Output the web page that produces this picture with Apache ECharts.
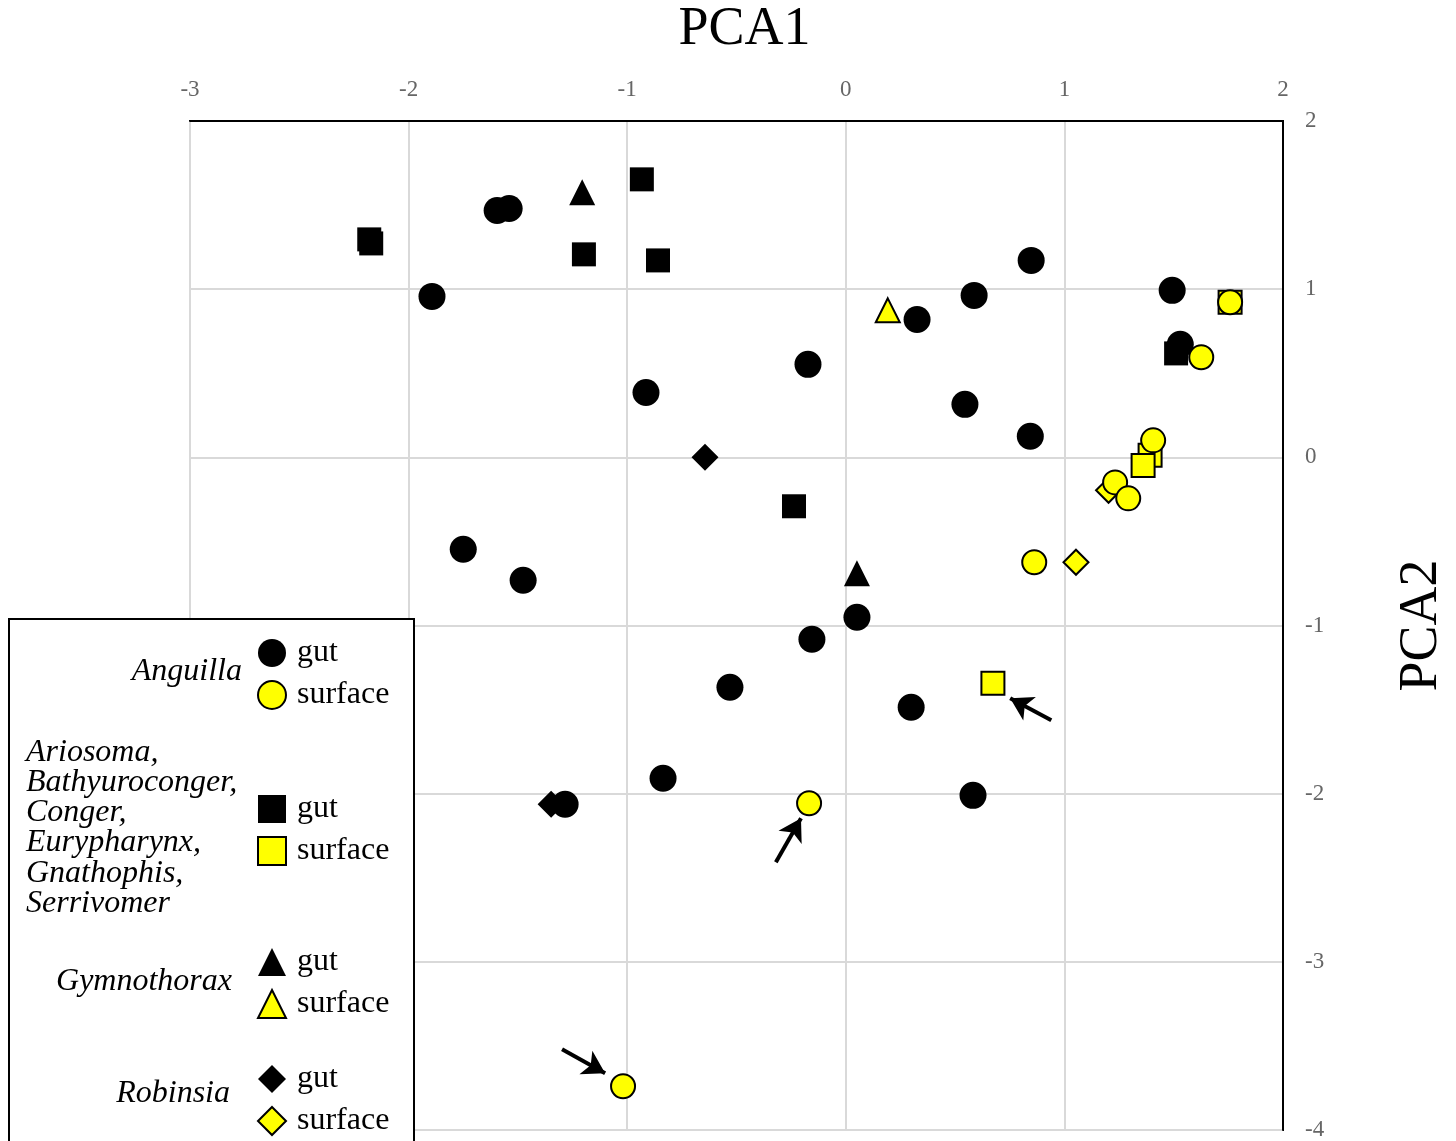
<!DOCTYPE html>
<html>
<head>
<meta charset="utf-8">
<script src="https://cdn.jsdelivr.net/npm/echarts@6/dist/echarts.min.js"></script>
<style>
html,body{margin:0;padding:0;background:#fff;}
#chart{width:1456px;height:1141px;}
</style>
</head>
<body>
<div id="chart"></div>
<script>
// PCA scores, [PCA1, PCA2]
var anguillaGut = [[-1.595,1.468],[-1.54,1.48],[-1.893,0.957],[-0.914,0.386],[-0.173,0.553],[0.326,0.82],
  [0.587,0.963],[0.848,1.171],[1.493,0.993],[1.53,0.672],[0.545,0.315],[0.844,0.125],[-1.75,-0.547],
  [-1.476,-0.731],[0.051,-0.951],[-0.155,-1.082],[-0.53,-1.367],[0.299,-1.486],[-0.836,-1.908],
  [-1.284,-2.063],[0.582,-2.01]];
var anguillaSurface = [[1.758,0.922],[1.626,0.595],[1.406,0.101],[1.232,-0.149],[1.292,-0.244],
  [0.862,-0.624],[-0.168,-2.057],[-1.019,-3.74]];
var congerGut = [[-2.18,1.296],[-2.171,1.272],[-0.933,1.653],[-1.198,1.207],[-0.859,1.171],[1.511,0.618],[-0.237,-0.291]];
var congerSurface = [[1.758,0.922],[1.392,0.012],[1.36,-0.048],[0.673,-1.344]];
var gymnoGut = [[-1.206,1.576],[0.051,-0.69]];
var gymnoSurface = [[0.192,0.874]];
var robinsiaGut = [[-0.644,0.0],[-1.348,-2.063]];
var robinsiaSurface = [[1.053,-0.624],[1.202,-0.196]];
// arrows [tail, head]
var arrows = [[[0.94,-1.564],[0.752,-1.433]],[[-0.32,-2.408],[-0.205,-2.146]],[[-1.298,-3.52],[-1.101,-3.662]]];

var serif = 'Liberation Serif';
var chart = echarts.init(document.getElementById('chart'));

function mk(name, data, symbol, size, fill, border, z){
  return {
    name: name, type: 'scatter', data: data, symbol: symbol, symbolSize: size,
    itemStyle: {color: fill, borderColor: border ? '#000' : fill, borderWidth: border ? 2 : 0, opacity: 1},
    emphasis: {disabled: true}, z: z
  };
}

var series = [
  mk('Anguilla gut', anguillaGut, 'circle', 27, '#000', false, 3),
  mk('Anguilla surface', anguillaSurface, 'circle', 24, '#ffff00', true, 5),
  mk('Conger gut', congerGut, 'rect', 24, '#000', false, 3),
  mk('Conger surface', congerSurface, 'rect', 23, '#ffff00', true, 4),
  mk('Gymnothorax gut', gymnoGut, 'triangle', 26, '#000', false, 3),
  mk('Gymnothorax surface', gymnoSurface, 'triangle', 24, '#ffff00', true, 4),
  mk('Robinsia gut', robinsiaGut, 'diamond', 27, '#000', false, 3),
  mk('Robinsia surface', robinsiaSurface, 'diamond', 25, '#ffff00', true, 4)
];
series[0].markLine = {
  silent: true, symbol: ['none', 'arrow'], symbolSize: [20, 22],
  lineStyle: {color: '#000', width: 4, type: 'solid'},
  label: {show: false},
  data: arrows.map(function(a){ return [{coord: a[0]}, {coord: a[1]}]; })
};

function legendBlock(names, top){
  return {
    data: names, orient: 'vertical', left: 257, top: top, itemGap: 10, padding: 0,
    itemWidth: 28, itemHeight: 28, z: 50,
    selectedMode: false,
    formatter: function(n){ return n.split(' ')[1]; },
    textStyle: {fontFamily: serif, fontSize: 32, color: '#000', padding: [0, 0, 0, 6]}
  };
}

chart.setOption({
  animation: false,
  grid: {left: 190, right: 173, top: 121, bottom: 11, outerBoundsMode: 'none', containLabel: false,
    show: true, borderColor: '#000', borderWidth: 2, backgroundColor: 'transparent'},
  xAxis: {
    type: 'value', position: 'top', min: -3, max: 2, interval: 1,
    name: 'PCA1', nameLocation: 'middle', nameGap: 64,
    nameTextStyle: {fontFamily: serif, fontSize: 54, color: '#000', padding: [0, 0, 0, 16]},
    axisLine: {show: true, onZero: false, lineStyle: {color: '#000', width: 2}},
    axisTick: {show: false},
    axisLabel: {fontFamily: serif, fontSize: 23, color: '#666', margin: 20},
    splitLine: {show: true, lineStyle: {color: '#d9d9d9', width: 2}}
  },
  yAxis: {
    type: 'value', position: 'right', min: -4, max: 2, interval: 1,
    name: 'PCA2', nameLocation: 'middle', nameGap: 112, nameRotate: 90,
    nameTextStyle: {fontFamily: serif, fontSize: 54, color: '#000'},
    axisLine: {show: true, onZero: false, lineStyle: {color: '#000', width: 2}},
    axisTick: {show: false},
    axisLabel: {fontFamily: serif, fontSize: 23, color: '#666', margin: 22},
    splitLine: {show: true, lineStyle: {color: '#d9d9d9', width: 2}}
  },
  legend: [
    legendBlock(['Anguilla gut', 'Anguilla surface'], 637),
    legendBlock(['Conger gut', 'Conger surface'], 793),
    legendBlock(['Gymnothorax gut', 'Gymnothorax surface'], 946),
    legendBlock(['Robinsia gut', 'Robinsia surface'], 1063)
  ],
  graphic: [
    {type: 'rect', left: 8, top: 618, z: 40, shape: {width: 405, height: 540},
     style: {fill: '#fff', stroke: '#000', lineWidth: 2}},
    {type: 'text', z: 45, style: {x: 242, y: 672, text: 'Anguilla', align: 'right', verticalAlign: 'middle',
      font: 'italic 32px "Liberation Serif"', fill: '#000'}},
    {type: 'text', z: 45, style: {x: 26, y: 737, text: 'Ariosoma,\nBathyuroconger,\nConger,\nEurypharynx,\nGnathophis,\nSerrivomer',
      align: 'left', verticalAlign: 'top', lineHeight: 30.3, font: 'italic 32px "Liberation Serif"', fill: '#000'}},
    {type: 'text', z: 45, style: {x: 232, y: 982, text: 'Gymnothorax', align: 'right', verticalAlign: 'middle',
      font: 'italic 32px "Liberation Serif"', fill: '#000'}},
    {type: 'text', z: 45, style: {x: 230, y: 1094, text: 'Robinsia', align: 'right', verticalAlign: 'middle',
      font: 'italic 32px "Liberation Serif"', fill: '#000'}}
  ],
  series: series
});
</script>
</body>
</html>
